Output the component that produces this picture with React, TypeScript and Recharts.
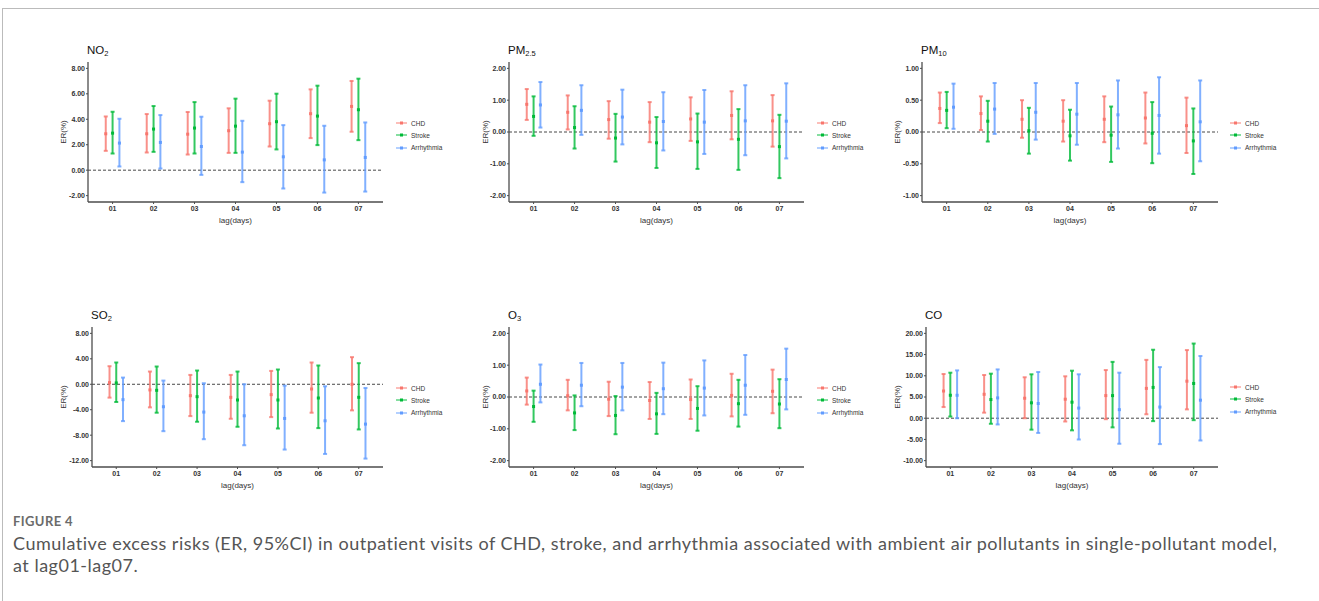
import React from "react";
import { ComposedChart, Scatter, ErrorBar, XAxis, YAxis, ReferenceLine } from "recharts";

// [estimate, lower 95%CI, upper 95%CI] for lag01..lag07
const LAGS = ["01", "02", "03", "04", "05", "06", "07"];
const SERIES_NAMES = ["CHD", "Stroke", "Arrhythmia"];
const COLORS = ["#F8766D", "#00BA38", "#619CFF"];

const NO2_CHD = [[2.86, 1.52, 4.22], [2.86, 1.39, 4.41], [2.83, 1.23, 4.57], [3.10, 1.36, 4.86], [3.65, 1.86, 5.46], [4.44, 2.52, 6.35], [5.01, 3.02, 7.01]];
const NO2_STROKE = [[2.91, 1.31, 4.59], [3.23, 1.44, 5.04], [3.31, 1.31, 5.35], [3.46, 1.36, 5.62], [3.81, 1.63, 6.01], [4.25, 1.97, 6.64], [4.75, 2.36, 7.19]];
const NO2_ARR = [[2.13, 0.29, 4.04], [2.18, 0.13, 4.33], [1.86, -0.37, 4.20], [1.42, -0.94, 3.88], [1.05, -1.44, 3.54], [0.81, -1.76, 3.49], [1.00, -1.68, 3.75]];

const PM25_CHD = [[0.87, 0.38, 1.35], [0.62, 0.08, 1.15], [0.39, -0.21, 0.97], [0.31, -0.32, 0.94], [0.41, -0.28, 1.09], [0.52, -0.23, 1.28], [0.35, -0.46, 1.16]];
const PM25_STROKE = [[0.49, -0.12, 1.12], [0.14, -0.52, 0.81], [-0.19, -0.93, 0.57], [-0.34, -1.13, 0.47], [-0.31, -1.16, 0.58], [-0.23, -1.19, 0.72], [-0.46, -1.45, 0.54]];
const PM25_ARR = [[0.85, 0.14, 1.57], [0.68, -0.09, 1.47], [0.47, -0.39, 1.33], [0.33, -0.58, 1.25], [0.31, -0.69, 1.32], [0.35, -0.73, 1.47], [0.34, -0.83, 1.53]];

const PM10_CHD = [[0.37, 0.14, 0.62], [0.29, 0.03, 0.56], [0.20, -0.09, 0.50], [0.17, -0.15, 0.50], [0.20, -0.16, 0.56], [0.22, -0.18, 0.62], [0.10, -0.33, 0.54]];
const PM10_STROKE = [[0.34, 0.06, 0.63], [0.17, -0.15, 0.49], [0.02, -0.34, 0.38], [-0.06, -0.45, 0.35], [-0.05, -0.47, 0.40], [-0.02, -0.49, 0.47], [-0.14, -0.66, 0.37]];
const PM10_ARR = [[0.39, 0.05, 0.76], [0.36, -0.03, 0.77], [0.31, -0.12, 0.77], [0.28, -0.20, 0.77], [0.27, -0.26, 0.81], [0.26, -0.34, 0.86], [0.16, -0.46, 0.81]];

const SO2_CHD = [[0.26, -2.10, 2.84], [-0.89, -3.63, 2.00], [-1.79, -5.00, 1.47], [-2.05, -5.42, 1.47], [-1.63, -5.16, 2.10], [-0.74, -4.47, 3.42], [0.00, -4.10, 4.26]];
const SO2_STROKE = [[0.21, -2.79, 3.42], [-0.95, -4.47, 2.79], [-1.95, -5.89, 2.16], [-2.47, -6.68, 2.00], [-2.47, -6.95, 2.32], [-2.16, -6.89, 2.95], [-2.05, -7.10, 3.32]];
const SO2_ARR = [[-2.42, -5.79, 1.05], [-3.53, -7.37, 0.58], [-4.37, -8.63, 0.16], [-4.95, -9.58, 0.00], [-5.37, -10.26, -0.21], [-5.74, -10.95, -0.32], [-6.26, -11.68, -0.58]];

const O3_CHD = [[0.19, -0.24, 0.61], [0.04, -0.42, 0.54], [-0.07, -0.60, 0.48], [-0.11, -0.69, 0.47], [-0.08, -0.69, 0.55], [0.05, -0.61, 0.73], [0.18, -0.51, 0.86]];
const O3_STROKE = [[-0.30, -0.78, 0.20], [-0.50, -1.04, 0.05], [-0.58, -1.17, 0.03], [-0.53, -1.16, 0.13], [-0.36, -1.06, 0.34], [-0.21, -0.93, 0.54], [-0.22, -0.98, 0.56]];
const O3_ARR = [[0.40, -0.17, 1.02], [0.37, -0.29, 1.07], [0.31, -0.42, 1.07], [0.26, -0.54, 1.08], [0.28, -0.58, 1.15], [0.37, -0.56, 1.32], [0.55, -0.39, 1.52]];

const CO_CHD = [[6.41, 2.63, 10.42], [5.64, 1.31, 10.19], [4.71, 0.00, 9.65], [4.48, -0.77, 9.88], [5.33, -0.23, 11.35], [7.03, 0.93, 13.75], [8.73, 2.08, 16.06]];
const CO_STROKE = [[5.41, 0.39, 10.73], [4.40, -1.31, 10.50], [3.63, -2.70, 10.35], [3.78, -2.86, 11.20], [5.33, -2.16, 13.28], [7.26, -0.69, 16.14], [8.19, -0.46, 17.60]];
const CO_ARR = [[5.41, 0.00, 11.27], [4.79, -1.47, 11.50], [3.47, -3.47, 10.89], [2.39, -5.02, 10.35], [2.01, -6.02, 10.73], [2.63, -6.10, 12.05], [4.25, -5.25, 14.67]];

const FONT = "'Liberation Sans', Arial, sans-serif";
const DODGE = 1 / 6; // position_dodge(0.5) with 3 groups
const MT = 5;
const XH = 28;

const PANELS = [
  { name: "NO", sub: "2", series: [NO2_CHD, NO2_STROKE, NO2_ARR], domain: [-2.5, 8.5], ticks: [-2, 0, 2, 4, 6, 8], axisX: 88, top: 62, bottom: 202, right: 383, labelX: 63, legendX: 396, legendY: 122 },
  { name: "PM", sub: "2.5", series: [PM25_CHD, PM25_STROKE, PM25_ARR], domain: [-2.2, 2.2], ticks: [-2, -1, 0, 1, 2], axisX: 509, top: 62, bottom: 202, right: 804, labelX: 485, legendX: 817, legendY: 122 },
  { name: "PM", sub: "10", series: [PM10_CHD, PM10_STROKE, PM10_ARR], domain: [-1.1, 1.1], ticks: [-1, -0.5, 0, 0.5, 1], axisX: 922, top: 62, bottom: 202, right: 1218, labelX: 897, legendX: 1230, legendY: 122 },
  { name: "SO", sub: "2", series: [SO2_CHD, SO2_STROKE, SO2_ARR], domain: [-13, 9], ticks: [-12, -8, -4, 0, 4, 8], axisX: 92, top: 327, bottom: 467, right: 383, labelX: 63, legendX: 396, legendY: 387 },
  { name: "O", sub: "3", series: [O3_CHD, O3_STROKE, O3_ARR], domain: [-2.2, 2.2], ticks: [-2, -1, 0, 1, 2], axisX: 509, top: 327, bottom: 467, right: 804, labelX: 485, legendX: 817, legendY: 387 },
  { name: "CO", sub: "", series: [CO_CHD, CO_STROKE, CO_ARR], domain: [-11.5, 21.5], ticks: [-10, -5, 0, 5, 10, 15, 20], axisX: 926, top: 327, bottom: 467, right: 1218, labelX: 897, legendX: 1230, legendY: 386 },
];

const Dot = (color: string) => (props: any) => {
  const { cx, cy } = props;
  if (cx == null || cy == null) return null;
  return <rect x={cx - 1.5} y={cy - 1.5} width={3} height={3} fill={color} />;
};

function Panel({ p }: { p: any }) {
  const chartLeft = p.labelX - 10;
  const yW = p.axisX - chartLeft;
  const width = p.right - chartLeft + 2;
  const height = MT + (p.bottom - p.top) + XH;
  const axisColor = "#4d4d4d";
  const tick = { fontSize: 7, fill: "#333", fontWeight: "bold", fontFamily: FONT };

  return (
    <>
      <div
        style={{
          position: "absolute",
          left: p.axisX - 1,
          top: p.top - 17,
          fontFamily: FONT,
          fontSize: 11.5,
          color: "#111",
          lineHeight: 1,
        }}
      >
        {p.name}
        {p.sub && <sub style={{ fontSize: 7.5, verticalAlign: "-2px" }}>{p.sub}</sub>}
      </div>
      <div style={{ position: "absolute", left: chartLeft, top: p.top - MT }}>
        <ComposedChart width={width} height={height} margin={{ top: MT, right: 2, left: 0, bottom: 0 }}>
          <XAxis
            type="number"
            dataKey="x"
            domain={[0.4, 7.6]}
            ticks={[1, 2, 3, 4, 5, 6, 7]}
            allowDataOverflow
            tickFormatter={(v: number) => LAGS[v - 1]}
            height={XH}
            tickSize={2}
            tickMargin={2}
            tick={tick}
            stroke={axisColor}
            axisLine={{ stroke: axisColor, strokeWidth: 1.3 }}
            label={{ value: "lag(days)", position: "insideBottom", offset: 7.5, style: { fontSize: 8, fill: "#333", fontFamily: FONT } }}
          />
          <YAxis
            type="number"
            dataKey="y"
            domain={p.domain}
            ticks={p.ticks}
            allowDataOverflow
            interval={0}
            width={yW}
            tickFormatter={(v: number) => v.toFixed(2)}
            tickSize={2}
            tickMargin={1}
            tick={tick}
            stroke={axisColor}
            axisLine={{ stroke: axisColor, strokeWidth: 1.3 }}
            label={{ value: "ER(%)", angle: -90, position: "insideLeft", offset: 10, style: { textAnchor: "middle", fontSize: 8, fill: "#333", fontFamily: FONT } }}
          />
          <ReferenceLine y={0} stroke="#333" strokeDasharray="3 2" strokeWidth={0.9} />
          {p.series.map((rows: number[][], si: number) => (
            <Scatter
              key={SERIES_NAMES[si]}
              name={SERIES_NAMES[si]}
              data={rows.map((r, i) => ({ x: i + 1 + (si - 1) * DODGE, y: r[0], err: [r[0] - r[1], r[2] - r[0]] }))}
              dataKey="y"
              fill={COLORS[si]}
              shape={Dot(COLORS[si])}
              isAnimationActive={false}
            >
              <ErrorBar dataKey="err" direction="y" width={2} stroke={COLORS[si]} strokeWidth={2} strokeOpacity={0.8} isAnimationActive={false} />
            </Scatter>
          ))}
        </ComposedChart>
      </div>
      <div style={{ position: "absolute", left: p.legendX, top: p.legendY - 5, fontFamily: FONT, fontSize: 6.5, color: "#333" }}>
        {SERIES_NAMES.map((n, si) => (
          <div key={n} style={{ display: "flex", alignItems: "center", height: 12.3 }}>
            <svg width={12} height={6} style={{ marginRight: 3 }}>
              <line x1={0} y1={3} x2={11} y2={3} stroke={COLORS[si]} strokeWidth={1.2} strokeOpacity={0.8} />
              <rect x={4} y={1.5} width={3} height={3} fill={COLORS[si]} />
            </svg>
            <span>{n}</span>
          </div>
        ))}
      </div>
    </>
  );
}

export default function App() {
  return (
    <div style={{ position: "absolute", left: 0, top: 0, width: 1319, height: 601, overflow: "hidden", background: "#fff" }}>
      <div style={{ position: "absolute", left: 2, top: 8, width: 1400, height: 700, borderTop: "1px solid #bbb", borderLeft: "1px solid #bbb" }} />
      {PANELS.map((p, i) => (
        <Panel key={i} p={p} />
      ))}
      <div style={{ position: "absolute", left: 13, top: 514, fontFamily: "Lato, sans-serif", fontWeight: 700, fontSize: 13, color: "#6b6b6b", letterSpacing: 0.4, lineHeight: "14px" }}>
        FIGURE 4
      </div>
      <div style={{ position: "absolute", left: 13, top: 532, width: 1300, fontFamily: "Lato, sans-serif", fontSize: 18, lineHeight: "22px", letterSpacing: 0.5, color: "#555", whiteSpace: "nowrap" }}>
        Cumulative excess risks (ER, 95%CI) in outpatient visits of CHD, stroke, and arrhythmia associated with ambient air pollutants in single-pollutant model,
        <br />
        at lag01-lag07.
      </div>
    </div>
  );
}
